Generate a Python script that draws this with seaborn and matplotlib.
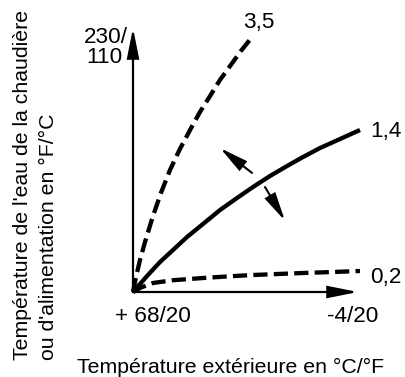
import matplotlib
matplotlib.use("Agg")
import matplotlib.pyplot as plt
import seaborn as sns
from matplotlib.patches import FancyArrowPatch

# ---------------- data (outdoor temp °C, flow temp °C) ----------------
curve_35_x = [20, 19.47, 18.77, 17.89, 16.48, 15.07, 13.48, 11.72, 9.96, 8.19, 6.43, 4.67, 2.91, 0.97, -0.97]
curve_35_y = [20, 25.1, 30.9, 37.0, 45.9, 53.8, 61.6, 68.8, 75.2, 81.4, 86.8, 92.3, 97.0, 102.2, 106.9]

curve_14_x = [20, 17.53, 15.24, 12.95, 10.48, 7.67, 4.67, 1.67, -1.15, -4.14, -7.14, -9.96, -12.95, -16.48, -20.0]
curve_14_y = [20, 25.45, 30.23, 34.32, 38.75, 43.18, 47.95, 52.05, 55.80, 59.55, 62.95, 66.02, 69.09, 72.16, 75.23]

curve_02_x = [20, 18.59, 16.48, 12.95, 7.67, 3.26, -1.15, -5.55, -9.96, -15.24, -20.0]
curve_02_y = [20, 21.53, 23.07, 24.02, 24.77, 25.32, 25.80, 26.14, 26.48, 26.82, 27.16]

curve_labels = ["3,5", "1,4", "0,2"]
y_top_labels = ["230/", "110"]
x_tick_labels = ["+ 68/20", "-4/20"]
x_title = "Température extérieure en °C/°F"
y_title = ["Température de l'eau de la chaudière", "ou d'alimentation en °F/°C"]

origin = (20, 20)
x_axis_end = (-19.65, 20)
y_axis_end = (20, 110)
arrow_up = ((-0.97, 60.6), (4.67, 69.1))      # (tail, tip)
arrow_down = ((-3.26, 55.8), (-6.78, 44.3))

# ---------------- figure ----------------
sns.set_theme(style="white")
plt.rcParams["font.family"] = ["Liberation Sans", "DejaVu Sans"]

W, H = 405, 377
fig = plt.figure(figsize=(W / 100, H / 100), dpi=100)
ax = fig.add_axes([0, 0, 1, 1])
ax.set_xlim(43.436, -27.93)
ax.set_ylim(-8.977, 119.55)
ax.axis("off")

lw = 3.1
dash = (0, (3.3, 1.45))
sns.lineplot(x=curve_35_x, y=curve_35_y, ax=ax, sort=False, color="black",
             lw=lw, linestyle=dash, dash_capstyle="butt")
sns.lineplot(x=curve_14_x, y=curve_14_y, ax=ax, sort=False, color="black",
             lw=lw, solid_capstyle="butt", solid_joinstyle="round")
sns.lineplot(x=curve_02_x, y=curve_02_y, ax=ax, sort=False, color="black",
             lw=lw, linestyle=dash, dash_capstyle="butt")

def arrow(tail, tip, hl, hw, width):
    a = FancyArrowPatch(tail, tip, arrowstyle=f"-|>,head_length={hl},head_width={hw}",
                        mutation_scale=1, lw=width, color="black",
                        shrinkA=0, shrinkB=0, joinstyle="miter")
    ax.add_patch(a)

arrow(origin, x_axis_end, 18, 3.6, 1.6)
arrow(origin, y_axis_end, 18, 3.6, 1.6)
arrow(arrow_up[0], arrow_up[1], 17, 3.6, 1.5)
arrow(arrow_down[0], arrow_down[1], 17, 3.6, 1.5)

fs = 15.3
fs_num = 16.2

def t(x, y, s, size=fs, **kw):
    fig.text(x / W, 1 - y / H, s, fontsize=size, color="black", **kw)

t(243, 28, curve_labels[0], size=fs_num, ha="left", va="baseline")
t(370, 137, curve_labels[1], size=fs_num, ha="left", va="baseline")
t(370, 283, curve_labels[2], size=fs_num, ha="left", va="baseline")
t(84, 43, y_top_labels[0], size=fs_num, ha="left", va="baseline")
t(86, 63, y_top_labels[1], size=fs_num, ha="left", va="baseline")
t(115, 322, x_tick_labels[0], size=fs_num, ha="left", va="baseline")
t(327, 322, x_tick_labels[1], size=fs_num, ha="left", va="baseline")
t(77, 373, x_title, ha="left", va="baseline")
t(28.5, 360, y_title[0], ha="left", va="baseline", rotation=90, rotation_mode="anchor")
t(54, 360, y_title[1], ha="left", va="baseline", rotation=90, rotation_mode="anchor")

fig.savefig("out.png", dpi=100, facecolor="white")
